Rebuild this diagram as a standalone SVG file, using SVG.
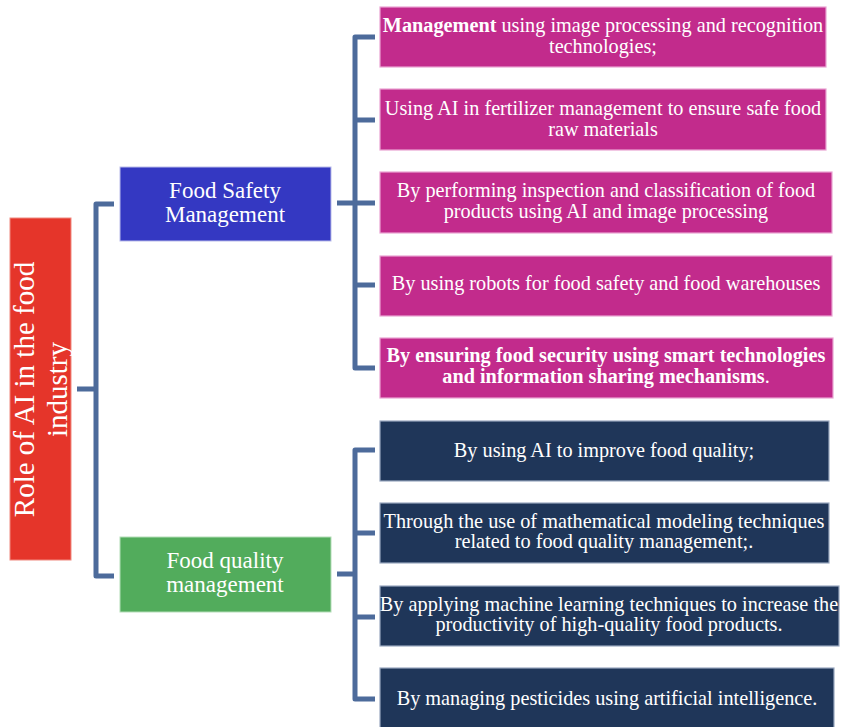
<svg xmlns="http://www.w3.org/2000/svg" width="841" height="727" viewBox="0 0 841 727" font-family="'Liberation Serif', 'DejaVu Serif', serif">
  <style>
    .t { font-family: 'Liberation Serif', 'DejaVu Serif', serif; fill: #ffffff; text-anchor: middle; }
    .s { font-size: 20.25px; }
    .m { font-size: 23px; }
    .b { font-weight: bold; }
    .pink { fill: #C22B8C; stroke: #E9A3D2; stroke-width: 1.2; }
    .navy { fill: #1F3659; stroke: #9AA8C0; stroke-width: 1.2; }
    .wire { fill: none; stroke: #4D6B9B; stroke-width: 5; stroke-linejoin: round; stroke-linecap: butt; }
  </style>

  <!-- connectors -->
  <g id="connectors">
    <!-- root bracket -->
    <path class="wire" d="M77,389 H96 M114,204 H96 V576 H114"/>
    <!-- food safety bracket -->
    <path class="wire" d="M337,203 H355 M375,37 H355 V368 H375 M355,120 H375 M355,203 H375 M355,285 H375"/>
    <!-- food quality bracket -->
    <path class="wire" d="M337,574 H355 M375,450 H355 V699 H375 M355,533 H375 M355,617 H375"/>
  </g>

  <!-- root -->
  <g id="root">
    <rect x="10" y="218" width="61" height="342" fill="#E5352A" stroke="#F08A80" stroke-width="1"/>
    <text class="t" font-size="29" transform="translate(34,389.5) rotate(-90)">Role of AI in the food</text>
    <text class="t" font-size="29" transform="translate(66.5,389.5) rotate(-90)">industry</text>
  </g>

  <!-- categories -->
  <g id="food-safety">
    <rect x="120" y="167" width="211" height="74" fill="#3438C2" stroke="#B9BBEA" stroke-width="1"/>
    <text class="t m" x="225" y="198">Food Safety</text>
    <text class="t m" x="225" y="221.5">Management</text>
  </g>
  <g id="food-quality">
    <rect x="120" y="537" width="211" height="75" fill="#52AC5C" stroke="#B4DDB8" stroke-width="1"/>
    <text class="t m" x="225" y="568">Food quality</text>
    <text class="t m" x="225" y="591.5">management</text>
  </g>

  <!-- food safety items -->
  <g id="fs-1">
    <rect class="pink" x="380" y="7" width="446" height="60"/>
    <text class="t s" x="603" y="32"><tspan class="b">Management</tspan> using image processing and recognition</text>
    <text class="t s" x="603" y="53">technologies;</text>
  </g>
  <g id="fs-2">
    <rect class="pink" x="380" y="89" width="446" height="61"/>
    <text class="t s" x="603" y="115">Using AI in fertilizer management to ensure safe food</text>
    <text class="t s" x="603" y="136">raw materials</text>
  </g>
  <g id="fs-3">
    <rect class="pink" x="380" y="172" width="452" height="61"/>
    <text class="t s" x="606" y="197">By performing inspection and classification of food</text>
    <text class="t s" x="606" y="218">products using AI and image processing</text>
  </g>
  <g id="fs-4">
    <rect class="pink" x="380" y="256" width="452" height="60"/>
    <text class="t s" x="606" y="290">By using robots for food safety and food warehouses</text>
  </g>
  <g id="fs-5">
    <rect class="pink" x="380" y="338" width="453" height="60"/>
    <text class="t s b" x="606" y="362">By ensuring food security using smart technologies</text>
    <text class="t s" x="606" y="383"><tspan class="b">and information sharing mechanisms</tspan>.</text>
  </g>

  <!-- food quality items -->
  <g id="fq-1">
    <rect class="navy" x="380" y="421" width="449" height="60"/>
    <text class="t s" x="604" y="457">By using AI to improve food quality;</text>
  </g>
  <g id="fq-2">
    <rect class="navy" x="380" y="503" width="449" height="60"/>
    <text class="t s" x="604" y="528">Through the use of mathematical modeling techniques</text>
    <text class="t s" x="604" y="548">related to food quality management;.</text>
  </g>
  <g id="fq-3">
    <rect class="navy" x="380" y="586" width="459" height="60"/>
    <text class="t s" x="609" y="611">By applying machine learning techniques to increase the</text>
    <text class="t s" x="609" y="631">productivity of high-quality food products.</text>
  </g>
  <g id="fq-4">
    <rect class="navy" x="380" y="668" width="454" height="60"/>
    <text class="t s" x="607" y="705">By managing pesticides using artificial intelligence.</text>
  </g>
</svg>
